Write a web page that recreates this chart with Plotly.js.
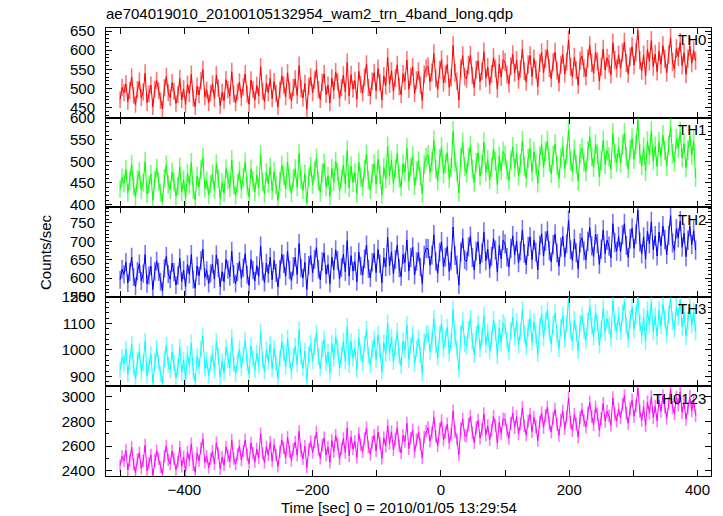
<!DOCTYPE html>
<html><head><meta charset="utf-8">
<script src="https://cdn.plot.ly/plotly-3.0.1.min.js"></script>
<style>html,body{margin:0;padding:0;background:#fff}#chart{width:723px;height:516px}</style>
</head><body><div id="chart"></div>
<script>
const titleText = "ae704019010_20100105132954_wam2_trn_4band_long.qdp";
const xTitle = "Time [sec] 0 = 2010/01/05 13:29:54";
const yTitle = "Counts/sec";
const bandNames = ["TH0", "TH1", "TH2", "TH3", "TH0123"];
const bandColors = ["#ff0000", "#00ff00", "#0000ff", "#00ffff", "#ff00ff"];
const errColors = ["rgba(255,0,0,0.55)", "rgba(0,255,0,0.55)", "rgba(0,0,255,0.55)", "rgba(0,255,255,0.55)", "rgba(255,0,255,0.55)"];
// time bins (sec relative to 2010/01/05 13:29:54)
const tStart = -500, tBin = 3;

const th0 = [
471,503,489,512,466,495,530,482,458,497,519,476,491,540,463,486,509,452,498,521,
494,468,447,502,531,489,476,515,493,461,484,526,470,499,458,511,487,537,475,452,
506,483,520,549,478,496,463,488,512,474,535,501,455,490,468,523,497,480,544,486,
462,491,517,476,504,538,485,459,522,497,470,508,481,556,493,466,514,489,527,473,
518,487,452,496,533,509,478,541,494,468,503,525,482,560,499,475,513,446,506,530,
489,522,550,497,471,516,538,484,509,462,527,495,543,518,474,502,535,491,568,481,
536,498,521,472,545,510,488,529,563,503,480,519,541,494,552,516,470,533,507,581,
511,546,493,527,562,505,484,538,519,574,498,531,556,487,522,545,509,469,537,553,
558,517,542,591,526,498,549,575,514,537,563,503,528,612,541,519,470,552,586,531,
525,561,587,534,503,549,572,518,545,596,527,556,509,538,581,552,498,564,530,575,
569,536,512,558,589,541,574,522,551,603,545,517,563,586,531,578,549,505,567,594,
541,578,602,553,526,569,595,547,515,562,589,538,571,627,556,530,582,548,509,573,
585,553,531,578,612,566,540,594,571,519,557,603,548,580,565,536,619,574,552,588,
552,594,621,567,538,583,609,561,595,652,574,546,588,533,602,571,625,557,590,544,
597,563,612,578,541,589,632,569,551,604,583,620,560,593,537,578,611,566,599,572];

const th1 = [
436,462,449,481,427,455,493,442,418,458,476,433,451,499,424,446,470,410,457,484,
453,428,406,461,492,447,434,475,452,419,443,487,429,458,415,472,446,497,433,411,
466,441,481,509,437,455,422,448,471,433,494,460,414,451,427,483,456,439,503,445,
421,450,477,435,463,498,444,418,482,456,429,468,440,515,452,425,474,448,487,432,
476,445,410,454,491,467,436,499,452,426,461,483,440,518,457,433,471,404,464,488,
446,479,507,454,428,473,495,441,466,419,484,452,500,475,431,459,492,448,525,438,
489,451,474,425,498,463,441,482,516,456,433,472,494,447,505,469,423,486,460,534,
467,502,449,483,518,461,440,494,475,530,454,487,512,443,478,501,465,425,493,509,
515,474,499,548,483,455,506,532,471,494,520,460,485,569,498,476,427,509,543,488,
473,509,535,482,451,497,520,466,493,544,475,504,457,486,529,500,446,512,478,523,
513,480,456,502,533,485,518,466,495,547,489,461,507,530,475,522,493,449,511,538,
486,523,547,498,471,514,540,492,460,507,534,483,516,572,501,475,527,493,454,518,
530,498,476,523,557,511,485,539,516,464,502,548,493,525,510,481,564,519,497,533,
496,538,565,511,482,527,553,505,539,596,518,490,532,477,546,515,569,501,534,488,
545,511,560,526,489,537,580,517,499,552,531,568,508,541,485,526,559,514,547,462];

const th2 = [
595,624,610,643,586,616,657,603,577,619,639,592,612,664,584,607,633,569,618,646,
617,590,566,626,659,611,597,641,616,581,607,654,591,622,576,637,610,664,596,572,
633,606,648,679,602,621,585,613,638,597,663,627,577,617,590,651,623,604,673,610,
585,616,645,599,628,666,609,580,650,622,592,634,605,687,618,588,641,612,657,595,
648,614,576,624,665,639,605,673,622,593,632,657,609,694,627,600,643,569,635,662,
614,651,683,624,595,645,669,610,637,585,657,622,677,648,598,629,665,617,702,605,
661,619,645,590,671,633,608,652,690,625,600,643,667,615,678,639,587,656,630,711,
633,672,612,651,690,627,604,664,642,704,619,656,684,608,645,671,630,585,662,681,
680,635,663,718,645,613,670,699,631,657,686,618,647,739,661,636,581,671,708,650,
645,685,714,656,622,673,699,638,668,725,647,679,626,659,707,676,616,689,652,703,
693,657,630,681,715,663,700,641,674,731,667,636,686,712,650,703,671,622,690,721,
660,701,728,674,644,691,720,668,632,684,714,657,694,757,677,648,706,669,625,696,
710,674,650,700,738,688,659,719,694,637,679,731,667,703,687,655,748,697,673,713,
672,718,748,689,656,707,736,681,719,785,698,666,712,651,728,693,753,677,715,660,
725,688,742,705,664,716,770,695,675,734,710,755,684,722,658,703,741,691,729,676];

const th3 = [
925,972,949,1003,907,955,1021,936,892,960,994,918,951,1033,903,942,982,876,957,1006,
952,909,872,965,1017,944,923,991,950,894,935,1010,913,961,888,984,941,1026,919,880,
978,937,1004,1052,930,961,903,948,987,922,1031,975,897,956,914,1009,963,933,1046,949,
909,958,1003,932,979,1036,951,907,1015,969,923,988,941,1067,962,917,1000,956,1022,928,
1005,952,893,967,1030,990,937,1044,963,918,977,1014,945,1075,973,931,996,885,982,1025,
958,1014,1063,975,929,1003,1040,950,992,912,1024,967,1050,1006,930,979,1033,958,1088,942,
1031,968,1008,925,1047,989,953,1021,1077,980,942,1004,1040,964,1057,997,918,1027,986,1102,
988,1047,955,1010,1069,976,941,1033,1000,1094,963,1016,1059,947,1005,1044,982,913,1030,1058,
1063,994,1037,1118,1020,972,1058,1101,1003,1041,1085,987,1031,1152,1045,1007,926,1058,1109,1024,
1015,1076,1118,1033,982,1058,1097,1005,1049,1130,1020,1067,995,1043,1114,1069,978,1083,1027,1102,
1091,1036,994,1072,1124,1050,1106,1018,1068,1151,1060,1012,1083,1119,1031,1105,1058,986,1088,1135,
1046,1108,1150,1067,1022,1095,1139,1061,1005,1084,1130,1040,1100,1198,1072,1030,1113,1063,998,1101,
1128,1073,1037,1108,1165,1092,1049,1140,1101,1018,1079,1157,1066,1117,1093,1045,1186,1105,1070,1130,
1070,1138,1184,1092,1041,1117,1160,1078,1131,1199,1103,1056,1124,1032,1149,1094,1180,1069,1127,1052,
1150,1093,1172,1118,1058,1133,1195,1108,1079,1162,1126,1189,1087,1140,1051,1111,1167,1095,1145,1068];

const th0123 = [
2443,2517,2481,2565,2407,2485,2590,2455,2386,2493,2546,2421,2478,2609,2398,2462,2529,2364,2488,2563,
2498,2431,2373,2518,2600,2489,2455,2561,2497,2409,2473,2591,2436,2512,2395,2552,2486,2619,2449,2388,
2545,2480,2584,2658,2468,2516,2425,2497,2558,2456,2627,2540,2418,2511,2446,2594,2522,2475,2648,2500,
2455,2532,2603,2487,2560,2650,2527,2458,2626,2545,2474,2577,2503,2700,2540,2468,2596,2527,2631,2480,
2611,2528,2435,2552,2650,2588,2505,2672,2555,2484,2576,2634,2525,2719,2563,2498,2600,2427,2573,2640,
2548,2636,2713,2574,2502,2610,2668,2527,2594,2469,2645,2556,2687,2617,2498,2577,2662,2548,2747,2522,
2676,2577,2640,2510,2701,2611,2555,2660,2747,2594,2534,2631,2688,2563,2714,2625,2501,2667,2602,2766,
2623,2716,2571,2658,2750,2601,2546,2690,2638,2786,2580,2663,2731,2555,2650,2712,2614,2505,2676,2721,
2749,2641,2708,2835,2680,2604,2739,2806,2651,2710,2779,2626,2695,2884,2717,2657,2530,2740,2819,2687,
2681,2777,2843,2709,2629,2749,2810,2666,2734,2862,2692,2766,2653,2728,2840,2769,2627,2792,2704,2820,
2816,2730,2664,2786,2868,2752,2840,2702,2780,2911,2766,2690,2802,2859,2718,2834,2760,2647,2796,2870,
2752,2849,2915,2785,2714,2829,2898,2776,2688,2812,2884,2743,2838,2992,2793,2727,2857,2778,2676,2833,
2897,2811,2755,2866,2955,2842,2775,2917,2856,2727,2823,2945,2803,2883,2845,2770,2990,2860,2805,2901,
2831,2937,3010,2866,2786,2905,2972,2842,2925,3070,2884,2811,2918,2768,2957,2871,3000,2833,2923,2806,
2973,2884,3008,2921,2827,2946,3060,2912,2866,2994,2936,3040,2875,2957,2818,2910,3001,2889,2968,2850];

const series = [th0, th1, th2, th3, th0123];
const yRanges = [[424, 658], [394, 601], [549, 793], [862, 1201], [2358, 3085]];
const yDticks = [50, 50, 50, 100, 200];
const yMinor = [10, 10, 10, 20, 100];

const font = "Liberation Sans, Arial, Helvetica, sans-serif";
const traces = [];
const layout = {
  width: 723, height: 516,
  margin: {l: 106, r: 12, t: 28, b: 40},
  paper_bgcolor: "#fff", plot_bgcolor: "#fff",
  showlegend: false,
  font: {family: font, size: 15, color: "#000"},
  title: {text: titleText, x: 106/723, xanchor: "left", xref: "container", y: 1 - 14/516, yanchor: "middle", yref: "container", font: {family: font, size: 15, color: "#000"}},
  annotations: []
};
const n = 5;
series.forEach((vals, i) => {
  const ax = i === 0 ? "" : String(i + 1);
  const x = vals.map((_, k) => tStart + k * tBin);
  traces.push({
    type: "scatter", mode: "lines", x: x, y: vals,
    xaxis: "x" + ax, yaxis: "y" + ax,
    line: {color: bandColors[i], width: 1},
    error_y: {type: "sqrt", visible: true, color: errColors[i], thickness: 1.6, width: 0},
    hoverinfo: "skip"
  });
  const top = 1 - i / n, bot = 1 - (i + 1) / n;
  layout["xaxis" + ax] = {
    domain: [0, 1], anchor: "y" + ax, range: [-522, 421],
    matches: i === 0 ? undefined : "x",
    showgrid: false, zeroline: false,
    showline: true, linecolor: "#000", linewidth: 1, mirror: "ticks",
    ticks: "inside", ticklen: 6, tickcolor: "#000", dtick: 200, tick0: 0,
    minor: {dtick: 100, ticklen: 6, ticks: "inside", tickcolor: "#000", showgrid: false},
    showticklabels: i === n - 1,
    tickfont: {family: font, size: 15, color: "#000"}
  };
  layout["yaxis" + ax] = {
    domain: [bot, top], anchor: "x" + ax, range: yRanges[i],
    showgrid: false, zeroline: false,
    showline: true, linecolor: "#000", linewidth: 1, mirror: "ticks",
    ticks: "inside", ticklen: 6, tickcolor: "#000", dtick: yDticks[i], tick0: 0,
    minor: {dtick: yMinor[i], ticklen: 3, ticks: "inside", tickcolor: "#000", showgrid: false},
    ticklabelstandoff: 7,
    tickfont: {family: font, size: 15, color: "#000"}
  };
  layout.annotations.push({
    text: bandNames[i], xref: "paper", yref: "paper", x: 0.995, y: top - 0.003,
    xanchor: "right", yanchor: "top", showarrow: false,
    font: {family: font, size: 15, color: "#000"}
  });
});
layout.annotations.push({
  text: xTitle, xref: "paper", yref: "paper", x: (399 - 106) / 605, y: (476 - 507) / 448,
  xanchor: "center", yanchor: "middle", showarrow: false,
  font: {family: font, size: 15, color: "#000"}
});
layout.annotations.push({
  text: yTitle, xref: "paper", yref: "paper", x: (45 - 106) / 605, y: 0.5,
  xanchor: "center", yanchor: "middle", textangle: -90, showarrow: false,
  font: {family: font, size: 15, color: "#000"}
});
Plotly.newPlot("chart", traces, layout, {staticPlot: true, displayModeBar: false});
</script></body></html>
